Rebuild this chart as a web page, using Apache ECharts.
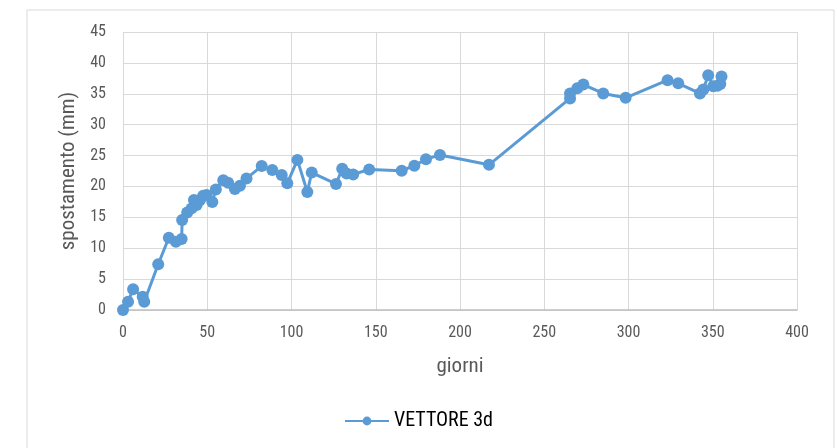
<!DOCTYPE html>
<html><head><meta charset="utf-8">
<script src="https://cdn.jsdelivr.net/npm/echarts@6/dist/echarts.min.js"></script>
<style>html,body{margin:0;padding:0;background:#fff}#c{width:837px;height:448px}</style>
</head><body><div id="c"></div>
<script>
const seriesName = 'VETTORE 3d';
const days = [0,3,6,11.7,12.6,20.9,27.2,31.4,34.8,35.1,38.1,40.7,42.1,43.7,45.7,47.6,49.6,53,55.1,59.5,62.4,66.4,69.4,73.3,82.3,88.6,94.2,97.5,103.5,109.4,112,126.4,130.1,132.7,136.6,146.1,165.4,172.9,179.8,188.1,217.2,265.3,265.3,269.6,273.2,285,298.3,323.2,329.5,342.4,344.4,347.3,350.3,352.8,354.5,355.2];
const values = [0,1.35,3.35,2.15,1.35,7.4,11.7,11.05,11.5,14.55,15.8,16.45,17.8,17.0,17.8,18.5,18.6,17.5,19.5,21.0,20.6,19.6,20.1,21.3,23.3,22.65,21.85,20.5,24.3,19.1,22.25,20.4,22.85,22.1,21.95,22.75,22.55,23.35,24.4,25.1,23.5,34.25,35.05,35.9,36.5,35.05,34.35,37.2,36.7,35.05,35.7,38.0,36.2,36.3,36.6,37.8];
const xName = 'giorni';
const yName = 'spostamento (mm)';
const font = '"Liberation Sans Narrow", "Roboto Condensed", Roboto, sans-serif';
const chart = echarts.init(document.getElementById('c'), null, {renderer:'canvas'});
chart.setOption({
  animation:false,
  graphic:[{type:'rect',shape:{x:27,y:10,width:807,height:460},style:{fill:'none',stroke:'#d9d9d9',lineWidth:1},z:-1}],
  grid:{left:123,right:40,top:32,bottom:138},
  legend:{bottom:12,left:'center',itemWidth:44,itemHeight:11,itemGap:10,textStyle:{fontFamily:font,fontSize:20,color:'#000'},data:[seriesName]},
  xAxis:{type:'value',min:0,max:400,interval:50,name:xName,nameLocation:'middle',nameGap:46,
    nameTextStyle:{fontFamily:font,fontSize:21,color:'#595959'},
    axisLine:{show:true,lineStyle:{color:'#bfbfbf',width:1.5}},axisTick:{show:false},
    axisLabel:{fontFamily:font,fontSize:16,color:'#595959',margin:15},
    splitLine:{show:true,lineStyle:{color:'#d9d9d9'}}},
  yAxis:{type:'value',min:0,max:45,interval:5,name:yName,nameLocation:'middle',nameGap:42,
    nameTextStyle:{fontFamily:font,fontSize:21,color:'#595959'},
    axisLine:{show:false},axisTick:{show:false},
    axisLabel:{fontFamily:font,fontSize:16,color:'#595959',margin:17},
    splitLine:{show:true,lineStyle:{color:'#d9d9d9'}}},
  series:[{name:seriesName,type:'line',data:days.map((d,i)=>[d,values[i]]),
    symbol:'circle',symbolSize:12,lineStyle:{color:'#5B9BD5',width:3},
    itemStyle:{color:'#5B9BD5'}}]
});
</script></body></html>
